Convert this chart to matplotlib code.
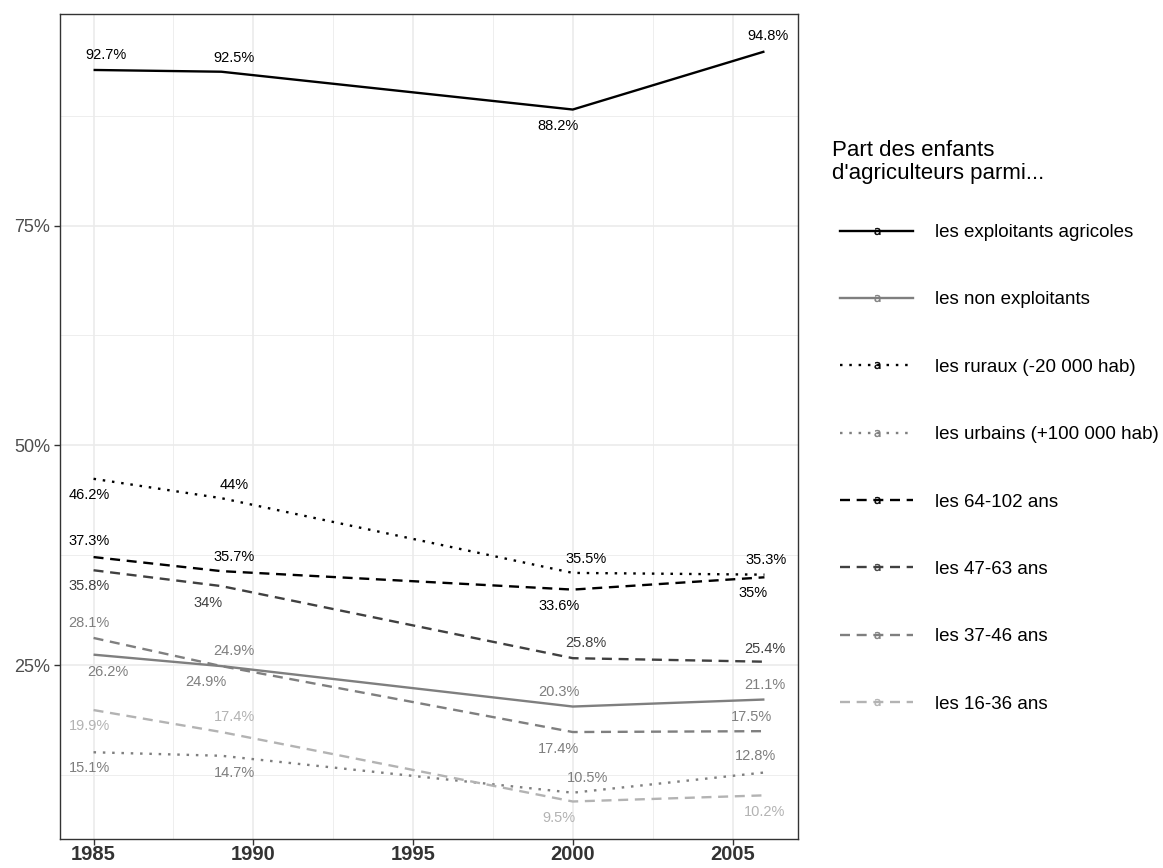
import numpy as np
import matplotlib.pyplot as plt
from matplotlib.lines import Line2D
from matplotlib.ticker import FuncFormatter, MultipleLocator

plt.rcParams['font.family'] = ['Liberation Sans', 'DejaVu Sans']
plt.rcParams['lines.scale_dashes'] = False

years = [1985, 1989, 2000, 2006]

series_names = [
    "les exploitants agricoles",
    "les non exploitants",
    "les ruraux (-20 000 hab)",
    "les urbains (+100 000 hab)",
    "les 64-102 ans",
    "les 47-63 ans",
    "les 37-46 ans",
    "les 16-36 ans",
]

exploitants = [92.7, 92.5, 88.2, 94.8]
non_exploitants = [26.2, 24.9, 20.3, 21.1]
ruraux = [46.2, 44.0, 35.5, 35.3]
urbains = [15.1, 14.7, 10.5, 12.8]
age_64_102 = [37.3, 35.7, 33.6, 35.0]
age_47_63 = [35.8, 34.0, 25.8, 25.4]
age_37_46 = [28.1, 24.9, 17.4, 17.5]
age_16_36 = [19.9, 17.4, 9.5, 10.2]

all_values = [exploitants, non_exploitants, ruraux, urbains,
              age_64_102, age_47_63, age_37_46, age_16_36]

legend_title = "Part des enfants\nd'agriculteurs parmi..."

# styles
dashed = (0, (7.2, 4.8))
dotted = (0, (1.8, 4.9))
colors = ['black', '#7f7f7f', 'black', '#7f7f7f',
          'black', '#404040', '#7f7f7f', '#b3b3b3']
styles = ['-', '-', dotted, dotted, dashed, dashed, dashed, dashed]

# label offsets in pixels (dx right, dy down)
offsets = [
    [(12, -15), (13, -14), (-15, 16), (4, -15)],
    [(14, 17), (-15, 16), (-14, -15), (0, -15)],
    [(-4, 16), (13, -13), (13, -14), (2, -15)],
    [(-4, 16), (13, 17), (15, -15), (-9, -16)],
    [(-4, -16), (13, -14), (-14, 16), (-11, 16)],
    [(-4, 16), (-13, 17), (13, -15), (0, -13)],
    [(-5, -15), (13, -15), (-14, 17), (-13, -14)],
    [(-4, 16), (13, -15), (-14, 16), (0, 17)],
]

W, H = 1163, 868
fig = plt.figure(figsize=(W / 100, H / 100), dpi=100)
ax = fig.add_axes([60 / W, (H - 839) / H, (798 - 60) / W, (839 - 14) / H])

for vals, col, ls, offs in zip(all_values, colors, styles, offsets):
    ax.plot(years, vals, color=col, linestyle=ls, lw=1.7,
            solid_capstyle='butt', dash_capstyle='butt')
    for x, v, (dx, dy) in zip(years, vals, offs):
        ax.annotate(f"{v:g}%", (x, v), xytext=(dx * 0.72, -dy * 0.72),
                    textcoords='offset points', ha='center', va='center',
                    fontsize=10.5, color=col, annotation_clip=False)

lo = min(min(v) for v in all_values)
hi = max(max(v) for v in all_values)
pad = (hi - lo) * 0.05
ax.set_ylim(lo - pad, hi + pad)
ax.set_xlim(years[0] - 0.05 * (years[-1] - years[0]),
            years[-1] + 0.05 * (years[-1] - years[0]))

ax.xaxis.set_major_locator(MultipleLocator(5))
ax.xaxis.set_minor_locator(MultipleLocator(2.5))
ax.yaxis.set_major_locator(MultipleLocator(25))
ax.yaxis.set_minor_locator(MultipleLocator(12.5))
ax.yaxis.set_major_formatter(FuncFormatter(lambda v, p: f"{v:g}%"))

ax.grid(which='major', color='#ebebeb', lw=1.2)
ax.grid(which='minor', color='#ebebeb', lw=0.6)
ax.set_axisbelow(True)
for s in ax.spines.values():
    s.set_color('#333333')
    s.set_linewidth(1.0)
ax.tick_params(which='minor', length=0)
ax.tick_params(axis='both', which='major', color='#333333', length=4, width=1)
ax.tick_params(axis='y', labelsize=13, labelcolor='#4d4d4d', pad=3)
ax.tick_params(axis='x', labelsize=14.5, labelcolor='#333333', pad=0.5)
for t in ax.get_xticklabels():
    t.set_fontweight('bold')

fig.text(832 / W, 1 - 162 / H, legend_title, fontsize=16, va='center',
         ha='left', linespacing=1.15)

handles = [Line2D([0], [0], color=c, linestyle=s, lw=1.7,
                  marker=r'$\mathrm{a}$', markersize=5,
                  markerfacecolor=c, markeredgecolor=c, markeredgewidth=0.3)
           for c, s in zip(colors, styles)]
leg = fig.legend(handles, series_names,
                 loc='upper left', bbox_to_anchor=(840 / W, 1 - 224 / H),
                 frameon=False, fontsize=13.5,
                 handlelength=3.9, handletextpad=1.17, labelspacing=2.68,
                 borderpad=0, borderaxespad=0, markerfirst=True)

fig.savefig('out.png', dpi=100)
